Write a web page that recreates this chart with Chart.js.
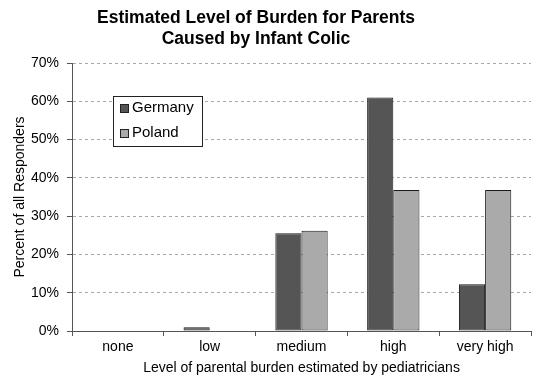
<!DOCTYPE html>
<html>
<head>
<meta charset="utf-8">
<script src="https://cdn.jsdelivr.net/npm/chart.js@4.4.0/dist/chart.umd.min.js"></script>
<style>
  html, body { margin: 0; padding: 0; background: #fff; }
  #wrap { width: 550px; height: 379px; }
</style>
</head>
<body>
<div id="wrap"><canvas id="burdenChart" width="550" height="379"></canvas></div>
<script>
const categories = ['none', 'low', 'medium', 'high', 'very high'];
const germany = [0, 1.0, 25.5, 61.0, 12.2];
const poland = [0, 0, 26.2, 36.8, 36.8];
const titleLines = ['Estimated Level of Burden for Parents', 'Caused by Infant Colic'];

const fontFamily = '"Liberation Sans", Arial, sans-serif';

// titre dessiné à la main pour le centrer comme l'original
const titlePlugin = {
  id: 'leftTitle',
  afterDraw(chart) {
    const ctx = chart.ctx;
    ctx.save();
    ctx.font = 'bold 17.5px ' + fontFamily;
    ctx.fillStyle = '#000';
    ctx.textAlign = 'center';
    ctx.textBaseline = 'middle';
    titleLines.forEach((line, i) => ctx.fillText(line, 256, 18 + i * 21));
    ctx.restore();
  }
};

// légende encadrée à l'intérieur de la zone du graphique
const boxLegend = {
  id: 'boxLegend',
  afterDraw(chart) {
    const ctx = chart.ctx;
    const x = 113, y = 96, w = 89, h = 50;
    ctx.save();
    ctx.fillStyle = '#fff';
    ctx.fillRect(x, y, w, h);
    ctx.strokeStyle = '#222';
    ctx.lineWidth = 1;
    ctx.strokeRect(x + 0.5, y + 0.5, w, h);
    ctx.font = '15px ' + fontFamily;
    ctx.textBaseline = 'middle';
    chart.data.datasets.forEach((ds, i) => {
      const cy = y + 12 + i * 25;
      ctx.fillStyle = ds.backgroundColor;
      ctx.fillRect(x + 7, cy - 4, 8, 8);
      ctx.strokeStyle = '#222';
      ctx.strokeRect(x + 7.5, cy - 3.5, 8, 8);
      ctx.fillStyle = '#000';
      ctx.fillText(ds.label, x + 19, cy);
    });
    ctx.restore();
  }
};

new Chart(document.getElementById('burdenChart'), {
  type: 'bar',
  data: {
    labels: categories,
    datasets: [
      { label: 'Germany', data: germany, backgroundColor: '#555555', borderColor: '#1a1a1a', borderWidth: 1, borderSkipped: false },
      { label: 'Poland', data: poland, backgroundColor: '#aaaaaa', borderColor: '#1a1a1a', borderWidth: 1, borderSkipped: false }
    ]
  },
  options: {
    responsive: false,
    animation: false,
    layout: { padding: { top: 63, right: 19, left: 12, bottom: 2 } },
    datasets: { bar: { categoryPercentage: 0.57, barPercentage: 1.0 } },
    plugins: {
      legend: { display: false },
      tooltip: { enabled: false }
    },
    scales: {
      x: {
        grid: { drawOnChartArea: false, offset: true, tickLength: 5, color: '#555' },
        border: { color: '#555', width: 1 },
        ticks: { color: '#000', font: { family: fontFamily, size: 14 }, padding: 3 },
        title: { display: true, text: 'Level of parental burden estimated by pediatricians', color: '#000', font: { family: fontFamily, size: 14 }, padding: { top: 1, bottom: 0 } },
        afterFit(scale) { scale.height = 46; }
      },
      y: {
        min: 0,
        max: 70,
        ticks: { stepSize: 10, callback: v => v + '%', color: '#000', font: { family: fontFamily, size: 14 }, padding: 8 },
        grid: { color: '#a8a8a8', tickLength: 5, tickColor: '#555', tickBorderDash: [] },
        border: { color: '#555', width: 1, dash: [3, 3] },
        title: { display: true, text: 'Percent of all Responders', color: '#000', font: { family: fontFamily, size: 14 }, padding: 0 },
        afterFit(scale) { scale.width = 60; }
      }
    }
  },
  plugins: [titlePlugin, boxLegend]
});
</script>
</body>
</html>
